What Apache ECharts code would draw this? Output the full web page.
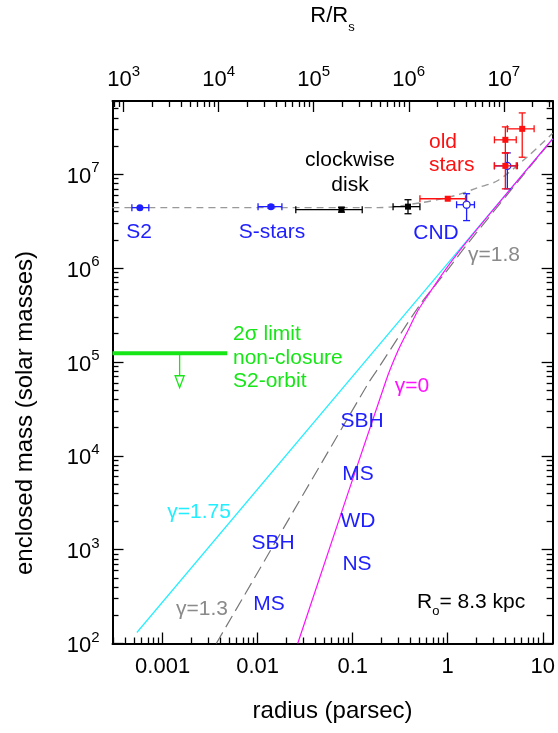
<!DOCTYPE html>
<html>
<head>
<meta charset="utf-8">
<script src="https://cdn.jsdelivr.net/npm/echarts@6/dist/echarts.min.js"></script>
<style>
  html, body { margin: 0; padding: 0; background: #ffffff; }
  #chart { width: 558px; height: 733px; }
</style>
</head>
<body>
<div id="chart"></div>
<script>
// ---------------- axis ranges and tick labels ----------------
const radiusMin = 2.97e-4, radiusMax = 12.7;        // parsec
const massMin = 100, massMax = 6.04e7;              // solar masses
const rsPerParsec = 2.57e6;                         // R/Rs per parsec
const radiusTicks = [0.001, 0.01, 0.1, 1, 10];
const radiusTickLabels = ['0.001', '0.01', '0.1', '1', '10'];
const rsTicks = [1e3, 1e4, 1e5, 1e6, 1e7];
const massTicks = [1e2, 1e3, 1e4, 1e5, 1e6, 1e7];

// ---------------- measurements ----------------
// each row: [radius, mass, radius low, radius high, mass low, mass high]
const sStars    = [[5.77e-4, 4.41e6, 4.75e-4, 7.16e-4, null, null],
                   [0.0138, 4.52e6, 0.0101, 0.0180, 4.35e6, 4.70e6]];
const diskStars = [[0.0762, 4.20e6, 0.0252, 0.126, 3.95e6, 4.45e6],
                   [0.382, 4.52e6, 0.266, 0.510, 3.80e6, 5.36e6]];
const cndPoints = [[1.58, 4.74e6, 1.24, 1.91, 3.21e6, 6.21e6],
                   [4.24, 1.23e7, 3.10, 5.39, 7.0e6, 1.69e7]];
const oldStars  = [[1.0, 5.49e6, 0.510, 1.54, null, null],
                   [4.04, 2.33e7, 3.10, 5.26, 1.69e7, 3.20e7],
                   [4.04, 1.23e7, 3.10, 5.26, 7.0e6, 1.69e7],
                   [6.08, 3.05e7, 4.24, 8.11, 1.52e7, 4.51e7]];

// point mass + cluster (total enclosed mass)
const totalMass = [[2.97e-4, 4.41e6], [0.186, 4.41e6], [0.522, 4.98e6], [1.18, 5.91e6],
                   [2.06, 7.19e6], [3.33, 8.53e6], [6.86, 1.53e7], [12.7, 2.74e7]];
// cluster mass for different inner density slopes
const gamma175 = [[5.36e-4, 131], [12.7, 2.38e7]];
const gamma13  = [[3.67e-3, 100], [0.146, 5.94e4], [0.186, 8.57e4], [0.522, 4.21e5],
                  [0.931, 8.77e5], [1.62, 1.82e6], [12.7, 2.38e7]];
const gamma0   = [[0.0264, 100], [0.225, 6.39e4], [0.301, 1.33e5], [0.382, 2.17e5],
                  [0.486, 3.54e5], [0.618, 5.12e5], [0.931, 9.43e5], [1.62, 1.96e6], [12.7, 2.38e7]];
// S2 orbit non-closure limit
const s2Limit = [[2.97e-4, 1.24e5], [4.79e-3, 1.24e5]];
const s2LimitArrow = [[1.51e-3, 1.24e5, 5.31e4]];

// ---------------- helpers ----------------
const FONT = '"Liberation Sans", Arial, sans-serif';
const BLUE = '#1e1eff', RED = '#ff1010', GREEN = '#16e616', CYAN = '#22eeff',
      MAGENTA = '#ff10ff', GRAY = '#8a8a8a';

function minorTicks(lo, hi) {
  const out = [];
  for (let e = Math.floor(Math.log10(lo)); e <= Math.ceil(Math.log10(hi)); e++) {
    for (let k = 2; k <= 9; k++) {
      const v = k * Math.pow(10, e);
      if (v > lo && v < hi) out.push(v);
    }
  }
  return out;
}

const powRich = {
  b: { fontSize: 22, fontFamily: FONT, color: '#000', lineHeight: 27, verticalAlign: 'bottom' },
  s: { fontSize: 15, fontFamily: FONT, color: '#000', lineHeight: 15, verticalAlign: 'top' }
};
function powLabel(v) {
  return '{b|10}{s|' + Math.round(Math.log10(v)) + '}';
}

function baseAxis(extra) {
  return Object.assign({
    type: 'log', logBase: 10,
    splitLine: { show: false },
    axisLine: { show: false, onZero: false },
    axisTick: { show: false },
    axisLabel: { show: false }
  }, extra);
}
const frameLine = { show: true, onZero: false, lineStyle: { color: '#000', width: 2 } };
const majorLen = 11, minorLen = 6;

function errorBars(color, shape, size, filled) {
  return function (params, api) {
    const r = api.value(0), m = api.value(1);
    const p = api.coord([r, m]);
    const st = { stroke: color, lineWidth: 1.3 };
    const cap = 3.5;
    const kids = [];
    const rLo = api.value(2), rHi = api.value(3), mLo = api.value(4), mHi = api.value(5);
    if (rLo > 0 && rHi > 0) {
      const a = api.coord([rLo, m]), b = api.coord([rHi, m]);
      kids.push({ type: 'line', shape: { x1: a[0], y1: p[1], x2: b[0], y2: p[1] }, style: st });
      kids.push({ type: 'line', shape: { x1: a[0], y1: p[1] - cap, x2: a[0], y2: p[1] + cap }, style: st });
      kids.push({ type: 'line', shape: { x1: b[0], y1: p[1] - cap, x2: b[0], y2: p[1] + cap }, style: st });
    }
    if (mLo > 0 && mHi > 0) {
      const a = api.coord([r, mLo]), b = api.coord([r, mHi]);
      kids.push({ type: 'line', shape: { x1: p[0], y1: a[1], x2: p[0], y2: b[1] }, style: st });
      kids.push({ type: 'line', shape: { x1: p[0] - cap, y1: a[1], x2: p[0] + cap, y2: a[1] }, style: st });
      kids.push({ type: 'line', shape: { x1: p[0] - cap, y1: b[1], x2: p[0] + cap, y2: b[1] }, style: st });
    }
    if (shape === 'square') {
      kids.push({ type: 'rect', shape: { x: p[0] - size / 2, y: p[1] - size / 2, width: size, height: size },
                  style: { fill: color } });
    } else {
      kids.push({ type: 'circle', shape: { cx: p[0], cy: p[1], r: size / 2 },
                  style: filled ? { fill: color } : { fill: '#fff', stroke: color, lineWidth: 1.3 } });
    }
    return { type: 'group', children: kids };
  };
}

function arrowDown(color) {
  return function (params, api) {
    const top = api.coord([api.value(0), api.value(1)]);
    const tip = api.coord([api.value(0), api.value(2)]);
    const h = 12, w = 4.5;
    return { type: 'group', children: [
      { type: 'line', shape: { x1: top[0], y1: top[1], x2: tip[0], y2: tip[1] - h },
        style: { stroke: color, lineWidth: 1.3 } },
      { type: 'polygon', shape: { points: [[tip[0] - w, tip[1] - h], [tip[0] + w, tip[1] - h], [tip[0], tip[1]]] },
        style: { fill: '#fff', stroke: color, lineWidth: 1.3 } }
    ] };
  };
}

function label(text, x, y, color, align, rich) {
  return { type: 'text', x: x, y: y, z: 20,
    style: { text: text, fill: color, font: '21px ' + FONT, align: align || 'center',
             verticalAlign: 'middle', rich: rich } };
}

const topMin = radiusMin * rsPerParsec, topMax = radiusMax * rsPerParsec;

const option = {
  backgroundColor: '#ffffff',
  animation: false,
  grid: { left: 112.5, right: 1.5, top: 100, bottom: 89.5, containLabel: false },
  xAxis: [
    baseAxis({ position: 'bottom', min: radiusMin, max: radiusMax,
      axisLine: frameLine,
      axisTick: { show: true, inside: true, length: majorLen, customValues: radiusTicks,
                  lineStyle: { color: '#000', width: 1.3 } },
      axisLabel: { show: true, customValues: radiusTicks, margin: 12,
                   fontSize: 22, fontFamily: FONT, color: '#000',
                   formatter: v => radiusTickLabels[radiusTicks.findIndex(t => Math.abs(t - v) / t < 1e-6)] || '' },
      name: 'radius (parsec)', nameLocation: 'middle', nameGap: 56,
      nameTextStyle: { fontSize: 24, fontFamily: FONT, color: '#000' } }),
    baseAxis({ position: 'bottom', min: radiusMin, max: radiusMax,
      axisTick: { show: true, inside: true, length: minorLen, customValues: minorTicks(radiusMin, radiusMax),
                  lineStyle: { color: '#000', width: 1.3 } } }),
    baseAxis({ position: 'top', min: topMin, max: topMax,
      axisLine: frameLine,
      axisTick: { show: true, inside: true, length: majorLen, customValues: rsTicks,
                  lineStyle: { color: '#000', width: 1.3 } },
      axisLabel: { show: true, customValues: rsTicks, margin: 10, formatter: powLabel, rich: powRich },
      name: '{a|R/R}{s|s}', nameLocation: 'middle', nameGap: 67,
      nameTextStyle: { rich: {
        a: { fontSize: 22, fontFamily: FONT, color: '#000', lineHeight: 29, verticalAlign: 'top' },
        s: { fontSize: 13, fontFamily: FONT, color: '#000', lineHeight: 29, verticalAlign: 'bottom' } } } }),
    baseAxis({ position: 'top', min: topMin, max: topMax,
      axisTick: { show: true, inside: true, length: minorLen, customValues: minorTicks(topMin, topMax),
                  lineStyle: { color: '#000', width: 1.3 } } })
  ],
  yAxis: [
    baseAxis({ position: 'left', min: massMin, max: massMax,
      axisLine: frameLine,
      axisTick: { show: true, inside: true, length: majorLen, customValues: massTicks,
                  lineStyle: { color: '#000', width: 1.3 } },
      axisLabel: { show: true, customValues: massTicks, margin: 13, formatter: powLabel, rich: powRich } }),
    baseAxis({ position: 'left', min: massMin, max: massMax,
      axisTick: { show: true, inside: true, length: minorLen, customValues: minorTicks(massMin, massMax),
                  lineStyle: { color: '#000', width: 1.3 } } }),
    baseAxis({ position: 'right', min: massMin, max: massMax,
      axisLine: frameLine,
      axisTick: { show: true, inside: true, length: majorLen, customValues: massTicks,
                  lineStyle: { color: '#000', width: 1.3 } } }),
    baseAxis({ position: 'right', min: massMin, max: massMax,
      axisTick: { show: true, inside: true, length: minorLen, customValues: minorTicks(massMin, massMax),
                  lineStyle: { color: '#000', width: 1.3 } } })
  ],
  series: [
    { name: 'gamma 1.75', type: 'line', data: gamma175, showSymbol: false, silent: true,
      lineStyle: { color: CYAN, width: 1.2 }, z: 2 },
    { name: 'gamma 1.3', type: 'line', data: gamma13, showSymbol: false, silent: true, smooth: 0.3,
      lineStyle: { color: '#777777', width: 1.2, type: [13, 6] }, z: 2 },
    { name: 'gamma 0', type: 'line', data: gamma0, showSymbol: false, silent: true, smooth: 0.3,
      lineStyle: { color: MAGENTA, width: 1.2 }, z: 3 },
    { name: 'total', type: 'line', data: totalMass, showSymbol: false, silent: true, smooth: 0.3,
      lineStyle: { color: '#999999', width: 1.4, type: [7, 5] }, z: 3 },
    { name: 'S2 limit', type: 'line', data: s2Limit, showSymbol: false, silent: true,
      lineStyle: { color: GREEN, width: 4 }, z: 4 },
    { name: 'S2 limit arrow', type: 'custom', data: s2LimitArrow, renderItem: arrowDown(GREEN),
      encode: { x: 0, y: 1 }, z: 4 },
    { name: 'S stars', type: 'custom', data: sStars, renderItem: errorBars(BLUE, 'circle', 7, true),
      encode: { x: 0, y: 1 }, z: 6 },
    { name: 'disk', type: 'custom', data: diskStars, renderItem: errorBars('#000', 'square', 6),
      encode: { x: 0, y: 1 }, z: 6 },
    { name: 'CND', type: 'custom', data: cndPoints, renderItem: errorBars(BLUE, 'circle', 7, false),
      encode: { x: 0, y: 1 }, z: 6 },
    { name: 'old stars', type: 'custom', data: oldStars, renderItem: errorBars(RED, 'square', 6),
      encode: { x: 0, y: 1 }, z: 7 }
  ],
  graphic: { elements: [
    { type: 'text', x: 25, y: 413, rotation: Math.PI / 2, z: 20,
      style: { text: 'enclosed mass (solar masses)', fill: '#000', font: '24px ' + FONT,
               align: 'center', verticalAlign: 'middle' } },
    label('S2', 139, 232, BLUE),
    label('S-stars', 272, 232, BLUE),
    label('clockwise', 350, 160, '#000'),
    label('disk', 350, 185, '#000'),
    label('old', 429, 142, RED, 'left'),
    label('stars', 429, 165, RED, 'left'),
    label('CND', 436, 233, BLUE),
    label('γ=1.8', 494, 255, GRAY),
    label('2σ limit', 233, 334, GREEN, 'left'),
    label('non-closure', 233, 358, GREEN, 'left'),
    label('S2-orbit', 233, 381, GREEN, 'left'),
    label('γ=0', 412, 386, MAGENTA),
    label('SBH', 362, 421, BLUE),
    label('MS', 358, 474, BLUE),
    label('WD', 358, 521, BLUE),
    label('NS', 357, 564, BLUE),
    label('γ=1.75', 199, 512, CYAN),
    label('SBH', 273, 543, BLUE),
    label('MS', 269, 604, BLUE),
    label('γ=1.3', 202, 609, GRAY),
    label('{a|R}{s|o}{a|= 8.3 kpc}', 417, 605, '#000', 'left', {
      a: { fontSize: 21, fontFamily: FONT, color: '#000', lineHeight: 26, verticalAlign: 'top' },
      s: { fontSize: 13, fontFamily: FONT, color: '#000', lineHeight: 26, verticalAlign: 'bottom' } })
  ] }
};

const chart = echarts.init(document.getElementById('chart'), null, { renderer: 'canvas' });
chart.setOption(option);
</script>
</body>
</html>
